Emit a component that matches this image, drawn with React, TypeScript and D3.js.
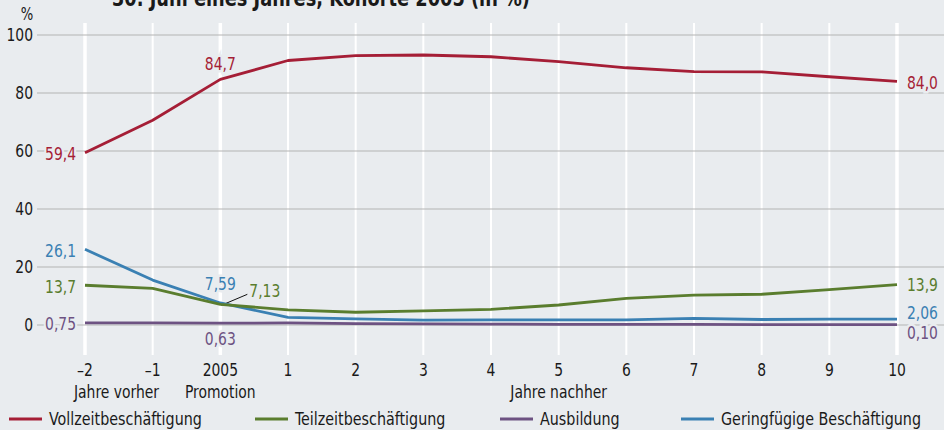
import React from "react";
import * as d3 from "d3";

const W = 944;
const H = 430;

const xLabels = ["–2", "–1", "2005", "1", "2", "3", "4", "5", "6", "7", "8", "9", "10"];
const yTicks = [0, 20, 40, 60, 80, 100];

const vollzeit = [59.4, 70.6, 84.7, 91.2, 92.9, 93.1, 92.5, 90.8, 88.7, 87.4, 87.3, 85.6, 84.0];
const teilzeit = [13.7, 12.6, 7.13, 5.2, 4.4, 4.9, 5.4, 6.9, 9.2, 10.3, 10.6, 12.2, 13.9];
const ausbildung = [0.75, 0.7, 0.63, 0.7, 0.5, 0.4, 0.3, 0.25, 0.2, 0.2, 0.15, 0.12, 0.1];
const geringfuegig = [26.1, 15.5, 7.59, 2.65, 2.1, 1.7, 1.8, 1.8, 1.8, 2.3, 1.9, 2.0, 2.06];

const seriesNames = ["Vollzeitbeschäftigung", "Teilzeitbeschäftigung", "Ausbildung", "Geringfügige Beschäftigung"];
const colors = ["#a51e36", "#5a7d2e", "#6d5282", "#3a80b3"];

const BG = "#e9ecef";
const FONT = "'DejaVu Sans Condensed', 'DejaVu Sans', sans-serif";
const SX = 0.86;

type Anchor = "start" | "middle" | "end";

function T(props: {
  x: number;
  y: number;
  children: React.ReactNode;
  anchor?: Anchor;
  fill?: string;
  size?: number;
  bold?: boolean;
  central?: boolean;
  halo?: boolean;
}) {
  const { x, y, children, anchor = "start", fill = "#1a1a1a", size = 18, bold, central, halo } = props;
  return (
    <text
      transform={`translate(${x},${y}) scale(${SX},1)`}
      textAnchor={anchor}
      dominantBaseline={central ? "central" : undefined}
      fill={fill}
      fontWeight={bold ? "bold" : undefined}
      stroke={halo ? BG : undefined}
      strokeWidth={halo ? 5 : undefined}
      paintOrder={halo ? "stroke" : undefined}
      style={{ fontSize: size }}
    >
      {children}
    </text>
  );
}

export default function App() {
  const x = d3.scaleLinear().domain([0, xLabels.length - 1]).range([85, 897]);
  const y = d3.scaleLinear().domain([0, 100]).range([325, 35]);
  const line = d3
    .line<number>()
    .x((_, i) => x(i))
    .y((d) => y(d));

  const allSeries = [vollzeit, teilzeit, ausbildung, geringfuegig];
  const last = xLabels.length - 1;

  const lbl = (key: string, tx: number, ty: number, text: string, color: string, anchor: Anchor) => (
    <T key={key} x={tx} y={ty} anchor={anchor} fill={color} central halo>
      {text}
    </T>
  );

  const legendX = [9, 255, 500, 681];

  return (
    <svg width={W} height={H} style={{ position: "absolute", left: 0, top: 0, fontFamily: FONT }}>
      <rect x={0} y={0} width={W} height={H} fill={BG} />
      {/* title (clipped in the reference too) */}
      <T x={112} y={6} bold size={23}>
        30. Juni eines Jahres, Kohorte 2005 (in %)
      </T>

      {/* vertical white grid */}
      {xLabels.map((_, i) => (
        <line
          key={"v" + i}
          x1={x(i)}
          x2={x(i)}
          y1={23}
          y2={355}
          stroke="#ffffff"
          strokeWidth={i === 0 || i === 2 || i === last ? 3.5 : 2}
        />
      ))}

      {/* horizontal grid */}
      {yTicks.map((t) => (
        <line key={"h" + t} x1={37} x2={W} y1={y(t)} y2={y(t)} stroke="#b3b3b3" strokeWidth={1.2} />
      ))}

      {/* y tick labels */}
      {yTicks.map((t) => (
        <T key={"yt" + t} x={33} y={y(t)} anchor="end" central>
          {t}
        </T>
      ))}
      <T x={27} y={20} anchor="middle" size={17}>
        %
      </T>

      {/* x tick labels */}
      {xLabels.map((l, i) => (
        <T key={"xt" + i} x={x(i)} y={376} anchor="middle">
          {l}
        </T>
      ))}
      <T x={x(0) - 11} y={398}>
        Jahre vorher
      </T>
      <T x={x(2)} y={398} anchor="middle">
        Promotion
      </T>
      <T x={x(7)} y={398} anchor="middle">
        Jahre nachher
      </T>

      {/* point labels */}
      {lbl("l1", x(0) - 9, y(vollzeit[0]) + 1, "59,4", colors[0], "end")}
      {lbl("l2", x(2), y(vollzeit[2]) - 16, "84,7", colors[0], "middle")}
      {lbl("l3", x(last) + 10, y(vollzeit[last]) + 1, "84,0", colors[0], "start")}
      {lbl("l4", x(0) - 9, y(geringfuegig[0]) + 1, "26,1", colors[3], "end")}
      {lbl("l5", x(0) - 9, y(teilzeit[0]) + 1, "13,7", colors[1], "end")}
      {lbl("l6", x(0) - 9, y(ausbildung[0]) + 1, "0,75", colors[2], "end")}
      {lbl("l7", x(2), y(geringfuegig[2]) - 19, "7,59", colors[3], "middle")}
      {lbl("l8", x(2) + 29, y(teilzeit[2]) - 14, "7,13", colors[1], "start")}
      {lbl("l9", x(2), y(ausbildung[2]) + 15, "0,63", colors[2], "middle")}
      {lbl("l10", x(last) + 10, y(teilzeit[last]), "13,9", colors[1], "start")}
      {lbl("l11", x(last) + 10, y(geringfuegig[last]) - 6, "2,06", colors[3], "start")}
      {lbl("l12", x(last) + 10, y(ausbildung[last]) + 8, "0,10", colors[2], "start")}

      {/* leader line */}
      <line
        x1={x(2) + 1}
        y1={y(teilzeit[2]) + 1}
        x2={x(2) + 27}
        y2={y(teilzeit[2]) - 10}
        stroke="#111"
        strokeWidth={1}
      />

      {/* series lines */}
      {[2, 3, 1, 0].map((si) => (
        <path
          key={"s" + si}
          d={line(allSeries[si]) || ""}
          fill="none"
          stroke={colors[si]}
          strokeWidth={2.8}
          strokeLinejoin="round"
        />
      ))}

      {/* legend */}
      {seriesNames.map((n, i) => (
        <g key={"lg" + i}>
          <line x1={legendX[i]} x2={legendX[i] + 33} y1={419} y2={419} stroke={colors[i]} strokeWidth={3} />
          <T x={legendX[i] + 40} y={425} size={18.5}>
            {n}
          </T>
        </g>
      ))}
    </svg>
  );
}
